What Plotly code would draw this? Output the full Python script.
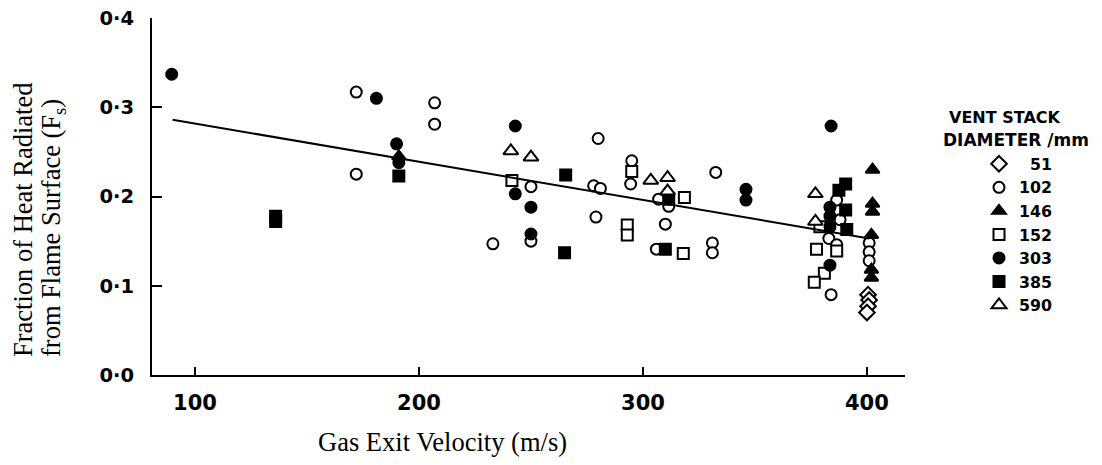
import plotly.graph_objects as go

# ---- data ----
v_51 = [400.5, 401, 400.5, 400]
f_51 = [0.090, 0.084, 0.077, 0.070]

v_102 = [172, 207, 207, 172, 233, 250, 250, 278, 281, 280, 279, 295, 294.5, 307,
         311.5, 310, 306, 332.5, 331, 331, 386.5, 388, 383, 386.5, 384, 401, 401, 401]
f_102 = [0.317, 0.305, 0.281, 0.225, 0.147, 0.211, 0.150, 0.212, 0.209, 0.265, 0.177,
         0.240, 0.214, 0.197, 0.189, 0.169, 0.141, 0.227, 0.148, 0.137, 0.196, 0.174,
         0.153, 0.146, 0.090, 0.148, 0.138, 0.128]

v_146 = [191, 402.5, 402.5, 402.5, 402, 402, 402]
f_146 = [0.245, 0.230, 0.192, 0.183, 0.157, 0.118, 0.109]

v_152 = [241.5, 295, 293, 293, 318.5, 318, 379, 377.5, 386.5, 381, 376.5]
f_152 = [0.218, 0.228, 0.168, 0.157, 0.199, 0.136, 0.166, 0.141, 0.139, 0.114, 0.104]

v_303 = [89.6, 181, 190, 191, 243, 243, 250, 250, 346, 346, 384, 383.5, 383.5, 383.5, 383.5]
f_303 = [0.337, 0.310, 0.259, 0.238, 0.279, 0.203, 0.188, 0.158, 0.208, 0.196, 0.279,
         0.188, 0.178, 0.166, 0.123]

v_385 = [136, 136, 191, 265.5, 265, 311.5, 310, 390.5, 387.5, 390.5, 391]
f_385 = [0.178, 0.172, 0.223, 0.224, 0.137, 0.197, 0.141, 0.214, 0.207, 0.185, 0.163]

v_590 = [241, 250, 303.5, 311, 311, 377, 377]
f_590 = [0.251, 0.244, 0.218, 0.221, 0.206, 0.203, 0.172]

fit_v = [90, 401]
fit_f = [0.286, 0.153]

x_ticks = [100, 200, 300, 400]
y_ticks = [0.0, 0.1, 0.2, 0.3, 0.4]
y_ticktext = ["0\u00b70", "0\u00b71", "0\u00b72", "0\u00b73", "0\u00b74"]

FS = "\u2007"
series = [
    (FS + "51", v_51, f_51, "diamond", "white", 12),
    ("102", v_102, f_102, "circle", "white", 11),
    ("146", v_146, f_146, "triangle-up", "black", 12),
    ("152", v_152, f_152, "square", "white", 11),
    ("303", v_303, f_303, "circle", "black", 11),
    ("385", v_385, f_385, "square", "black", 11),
    ("590", v_590, f_590, "triangle-up", "white", 13),
]

fig = go.Figure()
for name, xs, ys, sym, fill, size in series:
    fig.add_trace(go.Scatter(
        x=xs, y=ys, mode="markers", name=name,
        marker=dict(symbol=sym, color=fill, size=size,
                    line=dict(color="black", width=2)),
    ))

fig.add_trace(go.Scatter(x=fit_v, y=fit_f, mode="lines",
                         line=dict(color="black", width=2), showlegend=False))

# the page body has an 8px margin; work in page pixels and convert
OFF = 8
W, H = 1102 - OFF, 465 - OFF
L, T = 152 - OFF, 18 - OFF
R, B = W - (905 - OFF), H - (375 - OFF)
pw, ph = W - L - R, H - T - B

def px(xp):
    return (xp - OFF - L) / pw

def py(yp):
    return 1 - (yp - OFF - T) / ph

fig.update_layout(
    template="none",
    width=W, height=H,
    margin=dict(l=L, r=R, t=T, b=B, pad=0, autoexpand=False),
    paper_bgcolor="white", plot_bgcolor="white",
    showlegend=True,
    legend=dict(x=px(979), y=py(147), xanchor="left", yanchor="top",
                font=dict(family="DejaVu Sans", size=15.8, color="black", weight="bold"),
                bgcolor="rgba(0,0,0,0)", borderwidth=0),
    xaxis=dict(range=[80.8, 417], tickvals=x_ticks, ticks="inside", ticklen=8,
               tickwidth=2, tickcolor="black", showline=True, linecolor="black",
               linewidth=2, showgrid=False, zeroline=False,
               tickfont=dict(family="DejaVu Sans", size=21, color="black", weight="bold"),
               ticklabelstandoff=8, automargin=False, ticklabeloverflow="allow"),
    yaxis=dict(range=[0, 0.4], tickvals=y_ticks, ticktext=y_ticktext, ticks="inside",
               ticklen=10, tickwidth=2, tickcolor="black", showline=True,
               linecolor="black", linewidth=2, showgrid=False, zeroline=False,
               tickfont=dict(family="DejaVu Sans", size=19.5, color="black", weight="bold"),
               ticklabelstandoff=12, automargin=False, ticklabeloverflow="allow"),
)

serif = dict(family="Liberation Serif", size=26.5, color="black")
ann = [
    dict(text="Gas Exit Velocity (m/s)", x=px(442), y=py(442), font=serif),
    dict(text="Fraction of Heat Radiated", x=px(23), y=py(220), font=serif, textangle=-90),
    dict(text="from Flame Surface (F<sub>s</sub>)", x=px(53), y=py(228), font=serif,
         textangle=-90),
    dict(text="VENT STACK", x=px(947), y=py(117), xanchor="left",
         font=dict(family="DejaVu Sans", size=16, color="black", weight="bold")),
    dict(text="DIAMETER /mm", x=px(941), y=py(140), xanchor="left",
         font=dict(family="DejaVu Sans", size=17, color="black", weight="bold")),
]
for a in ann:
    a.setdefault("xanchor", "center")
    fig.add_annotation(xref="paper", yref="paper", showarrow=False, yanchor="middle", **a)

fig.write_html("out.html")
